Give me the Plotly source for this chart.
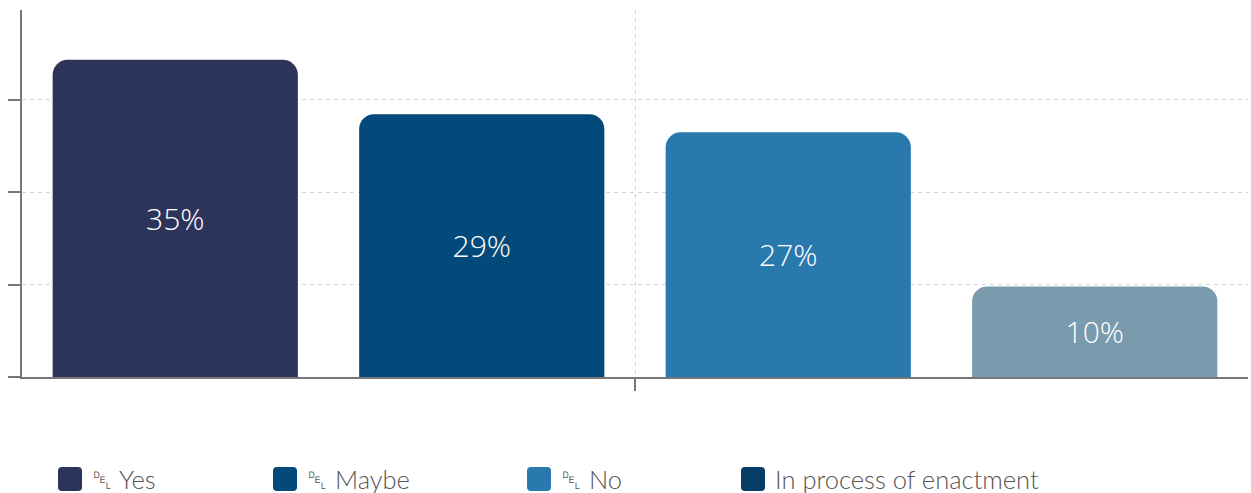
import plotly.graph_objects as go

# Survey answers and their shares (%)
answers = ["Yes", "Maybe", "No", "In process of enactment"]
shares = [35, 29, 27, 10]
bar_colors = ["#2c345c", "#034a7a", "#2a79ae", "#7a9aae"]
legend_colors = ["#2c345c", "#034a7a", "#2a79ae", "#053d65"]
legend_labels = ["\u2421 Yes", "\u2421 Maybe", "\u2421 No", "In process of enactment"]

W, H = 1251, 493
M_L, M_R, M_T, M_B = 22, 3, 10, 116
plot_w = W - M_L - M_R
plot_h = H - M_T - M_B

fig = go.Figure()
for name, val, col in zip(answers, shares, bar_colors):
    fig.add_trace(go.Bar(
        x=[0], y=[val], name=name,
        marker=dict(color=col, line=dict(width=0)),
        text=[f"{val}%"], textposition="inside", insidetextanchor="middle",
        textfont=dict(family="Open Sans", size=30, color="white", weight=300),
        showlegend=False, hoverinfo="skip",
    ))

# Custom legend row: rounded swatches with labels
legend_x = [58, 273, 527, 741]
legend_cy = 479
for px, lab, col in zip(legend_x, legend_labels, legend_colors):
    fig.add_shape(
        type="path", xref="paper", yref="paper",
        xsizemode="pixel", ysizemode="pixel",
        xanchor=(px - M_L) / plot_w, yanchor=-(legend_cy - (H - M_B)) / plot_h,
        path="M4,12 L20,12 Q24,12 24,8 L24,-8 Q24,-12 20,-12 L4,-12 Q0,-12 0,-8 L0,8 Q0,12 4,12 Z",
        fillcolor=col, line=dict(width=0),
    )
    fig.add_annotation(
        x=(px + 32 - M_L) / plot_w, y=-(legend_cy - (H - M_B)) / plot_h,
        xref="paper", yref="paper", xanchor="left", yanchor="middle",
        text=lab, showarrow=False,
        font=dict(family="Lato", size=25.5, color="#555555", weight=300),
    )

grid_style = dict(showgrid=True, gridcolor="#d6d6d6", griddash="4px,4px", gridwidth=1.2)
line_style = dict(showline=True, linecolor="#777777", linewidth=2,
                  ticks="outside", ticklen=12, tickcolor="#777777", tickwidth=2,
                  zeroline=False, fixedrange=True, showticklabels=False)

fig.update_layout(
    width=W, height=H,
    margin=dict(l=M_L, r=M_R, t=M_T, b=M_B, pad=0),
    paper_bgcolor="white", plot_bgcolor="white",
    barmode="group", bargap=0, bargroupgap=0.2, barcornerradius=15,
    xaxis=dict(range=[-0.5, 0.5], tickvals=[0], **grid_style, **line_style),
    yaxis=dict(range=[0, 40.5], tick0=0, dtick=10.2, **grid_style, **line_style),
)

fig.write_html("out.html")
